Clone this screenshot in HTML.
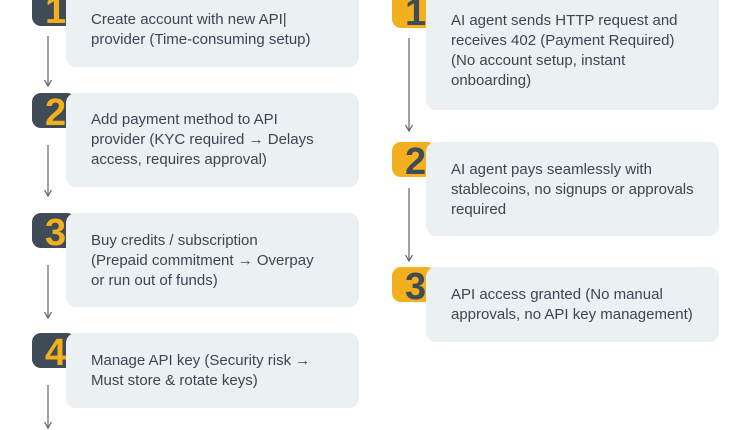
<!DOCTYPE html>
<html><head><style>
body{margin:0;width:750px;height:430px;background:#fff;position:relative;overflow:hidden;font-family:"Liberation Sans",sans-serif}
.b{position:absolute;width:44px;height:35px;border-radius:9px;overflow:hidden}
.b span{position:absolute;left:13px;top:-1px;font-size:38px;font-weight:bold;line-height:42px}
.d{background:#3f4b56}.d span{color:#f2b01e}
.y{background:#f2b01e}.y span{color:#3f4b56}
.c{position:absolute;background:#ebf0f2;border-radius:10px;color:#3b4650;font-size:15px;line-height:20px;box-sizing:border-box;padding-left:25px}
svg{position:absolute;left:0;top:0}
</style></head><body>
<svg width="750" height="430">
<g stroke="#5a6570" stroke-width="1.2" fill="none">
<line x1="48" y1="36" x2="48" y2="85"/><polyline points="44.5,80 48,86 51.5,80"/>
<line x1="48" y1="145" x2="48" y2="195"/><polyline points="44.5,190 48,196 51.5,190"/>
<line x1="48" y1="265" x2="48" y2="317"/><polyline points="44.5,312 48,318 51.5,312"/>
<line x1="48" y1="385" x2="48" y2="427"/><polyline points="44.5,422 48,428 51.5,422"/>
<line x1="409" y1="38" x2="409" y2="130"/><polyline points="405.5,125 409,131 412.5,125"/>
<line x1="409" y1="188" x2="409" y2="260"/><polyline points="405.5,255 409,261 412.5,255"/>
</g></svg>
<div class="b d" style="left:32px;top:-9px"><span>1</span></div>
<div class="b d" style="left:32px;top:93px"><span>2</span></div>
<div class="b d" style="left:32px;top:213px"><span>3</span></div>
<div class="b d" style="left:32px;top:333px"><span>4</span></div>
<div class="b y" style="left:392px;top:-7px"><span>1</span></div>
<div class="b y" style="left:392px;top:142px"><span>2</span></div>
<div class="b y" style="left:392px;top:267px"><span>3</span></div>

<div class="c" style="left:66px;top:-25px;width:293px;height:92px;padding-top:35px">Create account with new API|<br>provider (Time-consuming setup)</div>
<div class="c" style="left:66px;top:93px;width:293px;height:94px;padding-top:17px">Add payment method to API<br>provider (KYC required → Delays<br>access, requires approval)</div>
<div class="c" style="left:66px;top:213px;width:293px;height:94px;padding-top:18px">Buy credits / subscription<br>(Prepaid commitment → Overpay<br>or run out of funds)</div>
<div class="c" style="left:66px;top:333px;width:293px;height:75px;padding-top:18px">Manage API key (Security risk →<br>Must store &amp; rotate keys)</div>

<div class="c" style="left:426px;top:-25px;width:293px;height:135px;padding-top:36px">AI agent sends HTTP request and<br>receives 402 (Payment Required)<br>(No account setup, instant<br>onboarding)</div>
<div class="c" style="left:426px;top:142px;width:293px;height:94px;padding-top:18px">AI agent pays seamlessly with<br>stablecoins, no signups or approvals<br>required</div>
<div class="c" style="left:426px;top:267px;width:293px;height:75px;padding-top:18px">API access granted (No manual<br>approvals, no API key management)</div>
</body></html>
